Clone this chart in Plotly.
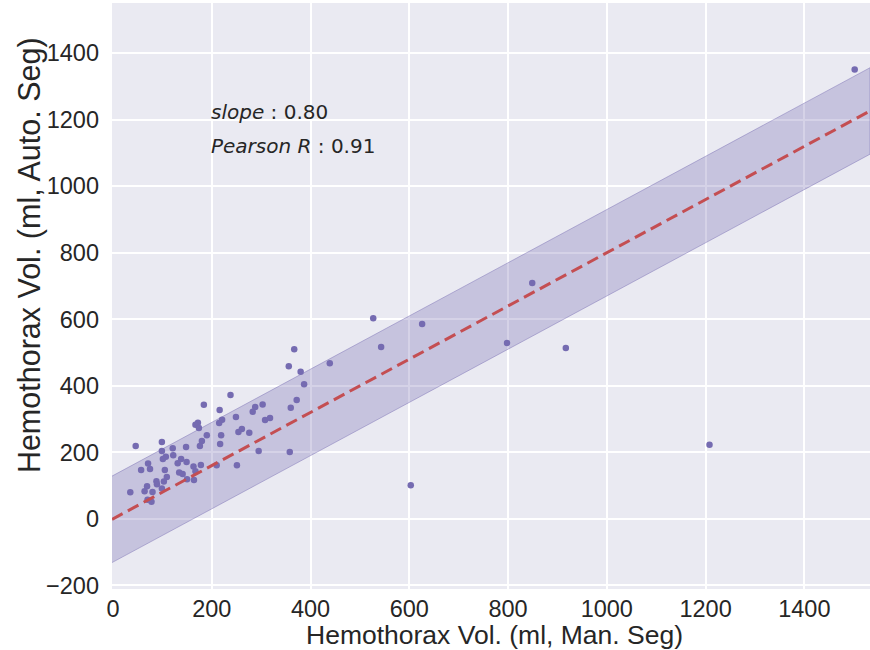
import plotly.graph_objects as go

# ---- data ----
man_vol = [367, 356, 380, 387, 372, 360, 358, 238, 184, 216, 303, 288, 283, 221, 215,
           249, 308, 318, 172, 167, 174, 261, 254, 276, 219, 190, 180, 176, 217, 148,
           121, 99, 99, 295, 46, 107, 101, 122, 138, 149, 131, 71, 57, 75, 105, 163,
           178, 251, 210, 167, 134, 141, 109, 103, 88, 89, 69, 150, 164, 64, 80, 99,
           35, 70, 78, 527, 626, 543, 798, 917, 849, 603, 439, 1208, 1502]
auto_vol = [510, 459, 442, 405, 357, 334, 201, 372, 343, 327, 344, 336, 322, 298, 288,
            306, 297, 303, 289, 283, 273, 270, 261, 259, 251, 251, 234, 219, 225, 216,
            212, 231, 204, 204, 219, 187, 180, 191, 180, 171, 167, 166, 147, 150, 147,
            157, 162, 161, 161, 143, 139, 135, 126, 112, 113, 104, 98, 119, 117, 83, 81,
            91, 80, 57, 51, 603, 586, 517, 529, 514, 709, 101, 468, 223, 1351]

slope = 0.80
pearson_r = 0.91
band_halfwidth = 130

x_range = [-2, 1533]
y_range = [-211, 1551]
x_ticks = [0, 200, 400, 600, 800, 1000, 1200, 1400]
y_ticks = [-200, 0, 200, 400, 600, 800, 1000, 1200, 1400]

fit_x = list(x_range)
fit_y = [slope * v for v in fit_x]
band_upper = [v + band_halfwidth for v in fit_y]
band_lower = [v - band_halfwidth for v in fit_y]

# ---- styles ----
point_color = "#756bb1"
band_fill = "rgba(117,107,177,0.30)"
line_color = "#c44e52"
text_color = "#262626"
font_family = "Liberation Sans, Arial, sans-serif"

fig = go.Figure()

fig.add_trace(go.Scatter(
    x=fit_x + fit_x[::-1],
    y=band_upper + band_lower[::-1],
    fill="toself", fillcolor=band_fill,
    line=dict(color="rgba(117,107,177,0.45)", width=1),
    mode="lines", hoverinfo="skip", showlegend=False,
))

fig.add_trace(go.Scatter(
    x=man_vol, y=auto_vol, mode="markers",
    marker=dict(color=point_color, size=6.5, line=dict(width=0)),
    showlegend=False,
))

fig.add_trace(go.Scatter(
    x=fit_x, y=fit_y, mode="lines",
    line=dict(color=line_color, width=3, dash="12px,6px"),
    showlegend=False,
))

axis_common = dict(
    showgrid=True, gridcolor="white", gridwidth=1.5,
    zeroline=False, showline=False, ticks="",
    tickfont=dict(family=font_family, size=23.5, color=text_color),
)

fig.update_xaxes(range=x_range, tickvals=x_ticks, ticklabelstandoff=3, **axis_common)
fig.update_yaxes(range=y_range, tickvals=y_ticks, ticklabelstandoff=12, **axis_common)

fig.update_layout(
    width=870, height=650,
    margin=dict(l=112, r=0, t=3, b=61),
    plot_bgcolor="#EAEAF2", paper_bgcolor="white",
    font=dict(family=font_family, color=text_color),
    annotations=[
        dict(text="Hemothorax Vol. (ml, Man. Seg)", xref="paper", yref="paper",
             x=0.504, y=-0.079, xanchor="center", yanchor="middle", showarrow=False,
             font=dict(family=font_family, size=26.5, color=text_color)),
        dict(text="Hemothorax Vol. (ml, Auto. Seg)", xref="paper", yref="paper",
             x=-0.108, y=0.57, xanchor="center", yanchor="middle", showarrow=False,
             textangle=-90,
             font=dict(family=font_family, size=30.5, color=text_color)),
        dict(text=f"<i>slope</i> : {slope:.2f}", xref="x", yref="y",
             x=194, y=1222, xanchor="left", yanchor="middle", showarrow=False,
             font=dict(family="DejaVu Sans", size=20, color=text_color)),
        dict(text=f"<i>Pearson R</i> : {pearson_r:.2f}", xref="x", yref="y",
             x=194, y=1122, xanchor="left", yanchor="middle", showarrow=False,
             font=dict(family="DejaVu Sans", size=20, color=text_color)),
    ],
)

fig.write_html("out.html")
